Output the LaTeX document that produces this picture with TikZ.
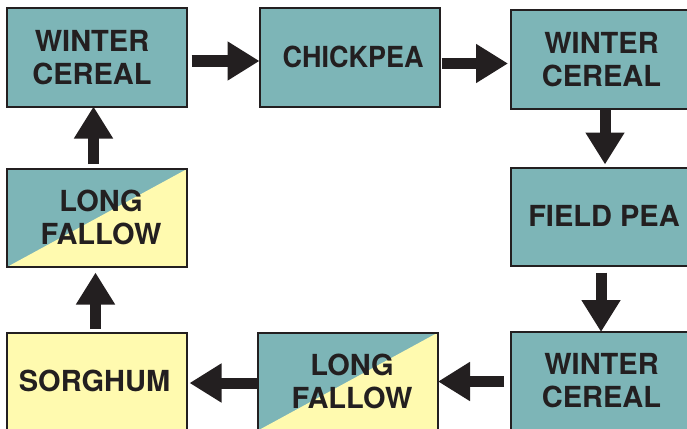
\documentclass[tikz,border=0pt]{standalone}
\usepackage{fontspec}
\setmainfont{TeX Gyre Heros}
\usetikzlibrary{arrows.meta}
\definecolor{teal}{HTML}{7DB5B7}
\definecolor{yel}{HTML}{FFFAAF}
\definecolor{ink}{HTML}{231F20}
\newcommand\shiftx[2]{\kern#1\raisebox{-3.8pt}[\height][\depth]{\begin{tabular}{@{}c@{}}#2\end{tabular}}\kern-#1}
\tikzset{
  box/.style={draw=ink, line width=2pt, minimum width=180pt, minimum height=98pt,
    inner sep=0pt, outer sep=0pt, text=ink, font=\fontsize{29}{33}\selectfont\bfseries},
  tealbox/.style={box, fill=teal},
  yelbox/.style={box, fill=yel},
  splitbox/.style={box, fill=teal, path picture={
    \fill[yel] (path picture bounding box.south west) -- (path picture bounding box.north east)
      -- (path picture bounding box.south east) -- cycle;}},
  arr/.style={draw=ink, line width=11pt, -{Triangle[length=32pt,width=37pt]}},
}
\begin{document}
\begin{tikzpicture}[x=1pt,y=-1pt]
\useasboundingbox (0,0) rectangle (687,428);
\node[tealbox] (A) at (96.5,57.5) {\shiftx{-4.5pt}{WINTER\\CEREAL}};
\node[tealbox] (B) at (349.5,57.5) {\shiftx{3.5pt}{\scalebox{0.93}[1]{CHICKPEA}}};
\node[tealbox] (C) at (601,59.5) {\shiftx{0.5pt}{WINTER\\CEREAL}};
\node[tealbox] (D) at (601,216.5) {\shiftx{3pt}{FIELD PEA}};
\node[tealbox] (E) at (601,381) {\shiftx{0.5pt}{WINTER\\CEREAL}};
\node[splitbox] (F) at (348,381.5) {\shiftx{4pt}{LONG\\FALLOW}};
\node[yelbox] (G) at (96.5,381.5) {\shiftx{-2pt}{SORGHUM}};
\node[splitbox] (H) at (97,218) {\shiftx{4pt}{LONG\\FALLOW}};
\draw[arr] ([xshift=5pt,yshift=-3.5pt]A.east) -- ([yshift=-3.5pt]B.west);
\draw[arr] ([xshift=2pt,yshift=-6pt]B.east) -- ([xshift=-3pt,yshift=-4pt]C.west);
\draw[arr] ([xshift=4pt]C.south) -- ([xshift=4pt,yshift=3pt]D.north);
\draw[arr] ([yshift=-7pt]D.south) -- (E.north);
\draw[arr] ([xshift=-7pt,yshift=-0.5pt]E.west) -- (F.east);
\draw[arr] ([yshift=-1.5pt]F.west) -- ([xshift=3pt,yshift=-1.5pt]G.east);
\draw[arr] ([xshift=-1pt,yshift=3.5pt]G.north) -- ([xshift=-1.5pt,yshift=-5.5pt]H.south);
\draw[arr] ([xshift=-3.5pt,yshift=5pt]H.north) -- ([xshift=-3pt]A.south);
\end{tikzpicture}
\end{document}
